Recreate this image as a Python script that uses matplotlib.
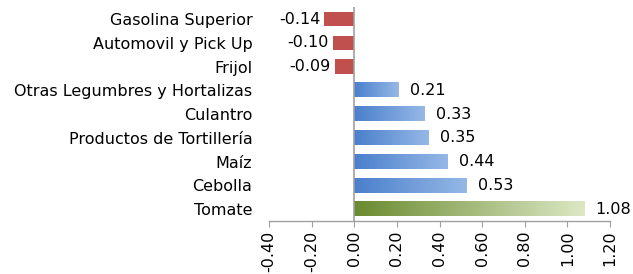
import numpy as np
import matplotlib
matplotlib.use("Agg")
import matplotlib.pyplot as plt
from matplotlib.colors import LinearSegmentedColormap

categories = ["Gasolina Superior", "Automovil y Pick Up", "Frijol",
              "Otras Legumbres y Hortalizas", "Culantro",
              "Productos de Tortillería", "Maíz", "Cebolla", "Tomate"]
values = [-0.14, -0.10, -0.09, 0.21, 0.33, 0.35, 0.44, 0.53, 1.08]
xticks = [-0.40, -0.20, 0.00, 0.20, 0.40, 0.60, 0.80, 1.00, 1.20]

plt.rcParams['font.family'] = ['DejaVu Sans']
fig = plt.figure(figsize=(6.33, 2.74), dpi=100)
ax = fig.add_axes([0.425, 0.193, 0.5387, 0.781])

n = len(categories)
ypos = np.arange(n)[::-1]
h = 0.6
fs = 11.5

blue = LinearSegmentedColormap.from_list("b", ["#4a7fcc", "#95b8e6"])
green = LinearSegmentedColormap.from_list("g", ["#6a8a30", "#dce8c4"])
grad = np.linspace(0, 1, 256).reshape(1, -1)

for i, (y, v) in enumerate(zip(ypos, values)):
    if v < 0:
        ax.barh(y, v, height=h, color="#c0504d", zorder=2)
        ax.annotate(f"{v:.2f}", (v, y), xytext=(-3, 0), textcoords="offset points",
                    ha="right", va="center", fontsize=fs)
    else:
        cmap = green if i == n - 1 else blue
        ax.imshow(grad, extent=[0, v, y - h / 2, y + h / 2], aspect="auto",
                  cmap=cmap, zorder=2, interpolation="bilinear")
        ax.annotate(f"{v:.2f}", (v, y), xytext=(8, 0), textcoords="offset points",
                    ha="left", va="center", fontsize=fs)

ax.set_xlim(-0.40, 1.20)
ax.set_ylim(-0.5, n - 0.5)
ax.axvline(0, color="#a0a0a0", lw=1.2, zorder=3)
for s in ["top", "right", "left"]:
    ax.spines[s].set_visible(False)
ax.spines["bottom"].set_color("#a0a0a0")
ax.spines["bottom"].set_linewidth(1.0)
ax.set_xticks(xticks)
ax.set_xticklabels([f"{t:.2f}" for t in xticks], rotation=90, fontsize=fs)
ax.tick_params(axis="x", direction="out", length=4, color="#a0a0a0", pad=3)
ax.set_yticks(ypos)
ax.set_yticklabels(categories, fontsize=fs)
ax.tick_params(axis="y", length=0, pad=12)

fig.savefig("out.png", dpi=100)
